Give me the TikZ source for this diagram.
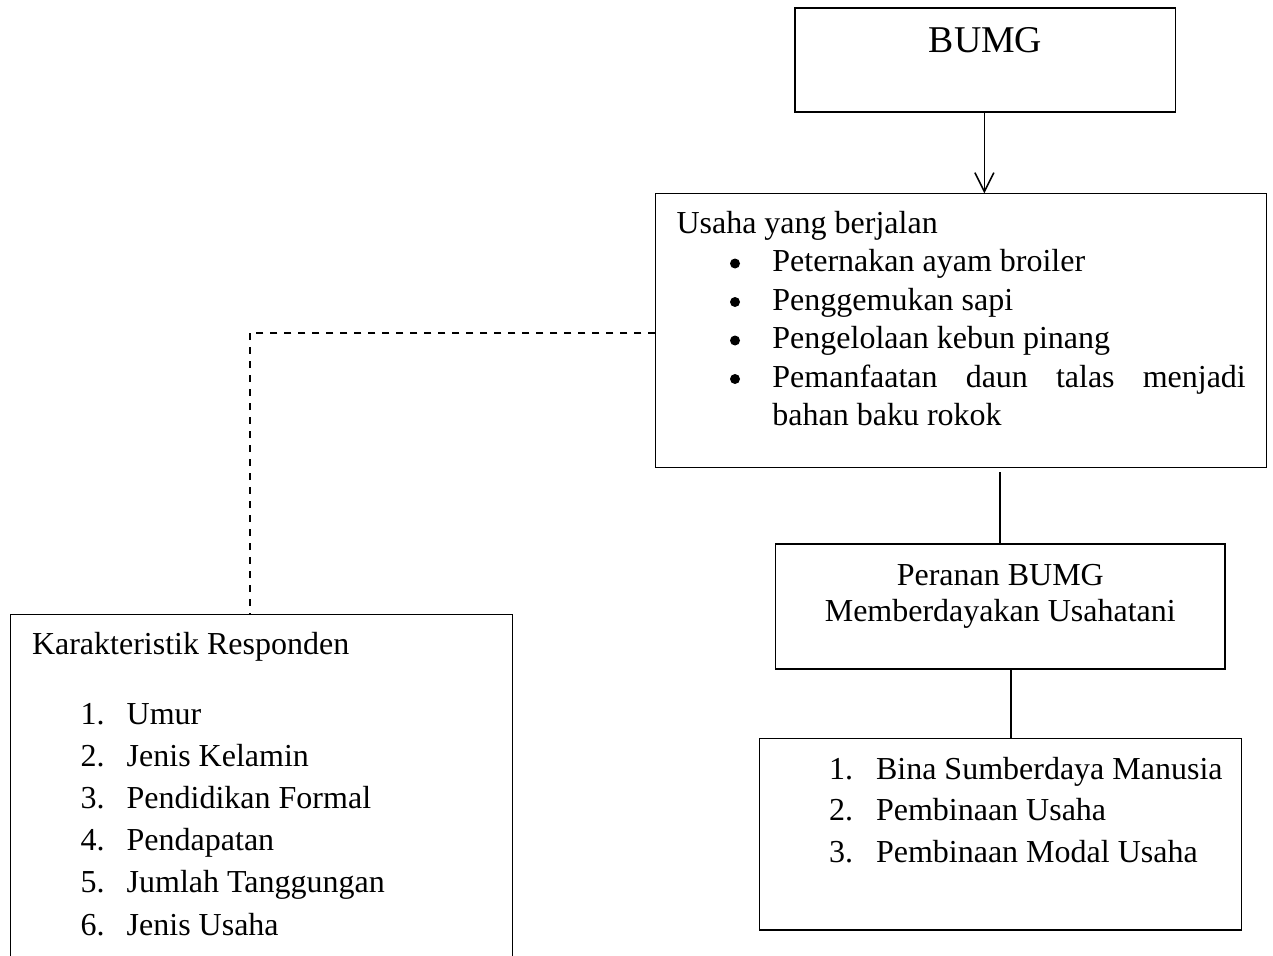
\documentclass[tikz,border=0pt]{standalone}
\usepackage{fontspec}
\setmainfont{Liberation Serif}
\usetikzlibrary{arrows.meta}
\newcommand\bodyfs{\fontsize{32}{38}\selectfont}
\newcommand\bigfs{\fontsize{37.8}{44}\selectfont}
\tikzset{
  boxstyle/.style={draw, rectangle, line width=1.5pt, inner sep=0pt, outer sep=0pt, anchor=north west},
  txt/.style={inner sep=0pt, outer sep=0pt, anchor=base west, font=\bodyfs},
  ctxt/.style={inner sep=0pt, outer sep=0pt, anchor=base, font=\bodyfs},
  dotmark/.style={circle, fill, inner sep=0pt, minimum size=10pt},
  conn/.style={line width=1.7pt},
  dashconn/.style={line width=1.7pt, dash pattern=on 7pt off 7pt}
}
\begin{document}
\begin{tikzpicture}[x=1pt,y=1pt]
\path[use as bounding box] (0,0) rectangle (1273,-955);
\clip (0,0) rectangle (1273,-955);
% boxes
\node[boxstyle, minimum width=380.7pt, minimum height=104pt] (bumg) at (795,-8) {};
\node[boxstyle, minimum width=611.4pt, minimum height=274pt] (usaha) at (655.3,-193.3) {};
\node[boxstyle, minimum width=449.7pt, minimum height=125pt] (peranan) at (775.3,-544) {};
\node[boxstyle, minimum width=482.4pt, minimum height=191.7pt] (list) at (759.3,-738.3) {};
\node[boxstyle, minimum width=502pt, minimum height=370pt] (kar) at (10.3,-614.7) {};
% BUMG text
\node[inner sep=0pt, anchor=base, font=\bigfs] (tbumg) at (985.5,-53) {BUMG};
% Usaha text
\node[txt] (u0) at (676.5,-233.3) {Usaha yang berjalan};
\node[dotmark] (d1) at (735,-263.5) {};
\node[txt] (u1) at (772.4,-271.8) {Peternakan ayam broiler};
\node[dotmark] (d2) at (735,-302) {};
\node[txt] (u2) at (772.4,-310.3) {Penggemukan sapi};
\node[dotmark] (d3) at (735,-340.5) {};
\node[txt] (u3) at (772.4,-348.8) {Pengelolaan kebun pinang};
\node[dotmark] (d4) at (735,-379) {};
\node[txt] (u4) at (772.4,-387.3) {\makebox[473.4pt][s]{Pemanfaatan\hfill daun\hfill talas\hfill menjadi}};
\node[txt] (u5) at (772.4,-425.8) {bahan baku rokok};
% Peranan text
\node[ctxt] (p1) at (1000.3,-585) {Peranan BUMG};
\node[ctxt] (p2) at (1000.3,-621.5) {Memberdayakan Usahatani};
% list text
\node[txt] (l1n) at (829,-779.3) {1.};
\node[txt] (l1) at (876,-779.3) {Bina Sumberdaya Manusia};
\node[txt] (l2n) at (829,-820.8) {2.};
\node[txt] (l2) at (876,-820.8) {Pembinaan Usaha};
\node[txt] (l3n) at (829,-862.3) {3.};
\node[txt] (l3) at (876,-862.3) {Pembinaan Modal Usaha};
% Karakteristik text
\node[txt] (k0) at (32,-654) {Karakteristik Responden};
\node[txt] (k1n) at (80.5,-724) {1.};
\node[txt] (k1) at (126.7,-724) {Umur};
\node[txt] (k2n) at (80.5,-766.2) {2.};
\node[txt] (k2) at (126.7,-766.2) {Jenis Kelamin};
\node[txt] (k3n) at (80.5,-808.4) {3.};
\node[txt] (k3) at (126.7,-808.4) {Pendidikan Formal};
\node[txt] (k4n) at (80.5,-850.6) {4.};
\node[txt] (k4) at (126.7,-850.6) {Pendapatan};
\node[txt] (k5n) at (80.5,-892.8) {5.};
\node[txt] (k5) at (126.7,-892.8) {Jumlah Tanggungan};
\node[txt] (k6n) at (80.5,-935) {6.};
\node[txt] (k6) at (126.7,-935) {Jenis Usaha};
% connectors
\draw[conn, -{Straight Barb[length=19pt,width=19pt,line width=1.5pt]}] ([xshift=-1pt]bumg.south) -- ([xshift=-1pt]bumg.south |- usaha.north);
\draw[conn] (peranan.north) -- ([yshift=-5pt]peranan.north |- usaha.south);
\draw[conn] ([xshift=11pt]peranan.south) -- ([xshift=11pt]peranan.south |- list.north);
\draw[dashconn] ([yshift=-2.5pt]usaha.west) -| ([xshift=-11.5pt]kar.north);
\end{tikzpicture}
\end{document}
